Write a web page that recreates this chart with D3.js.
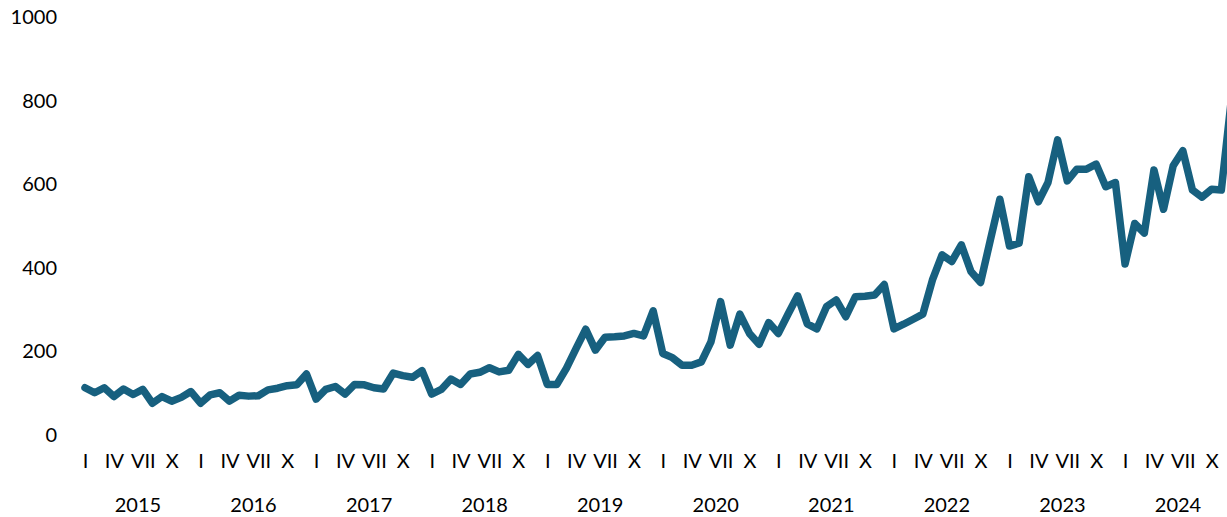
<!DOCTYPE html>
<html>
<head>
<meta charset="utf-8">
<script src="https://cdn.jsdelivr.net/npm/d3@7"></script>
<style>
	body { margin: 0; background: #fff; }
	svg { display: block; }
	.tick text { font-family: Lato, "Open Sans", sans-serif; font-size: 20px; fill: #000; }
	.yearLabel { font-family: Lato, "Open Sans", sans-serif; font-size: 20px; fill: #000; }
</style>
</head>
<body>
<div id="chart"></div>
<script>
//years shown under the month labels
const years = [2015, 2016, 2017, 2018, 2019, 2020, 2021, 2022, 2023, 2024];

//month labels, only every third month gets one
const monthLabels = ["I", "", "", "IV", "", "", "VII", "", "", "X", "", ""];

//y axis ticks
const yTicks = [0, 200, 400, 600, 800, 1000];

//monthly values, one row per year
const values2015 = [113, 101, 113, 92, 110, 97, 109, 76, 92, 81, 90, 104];
const values2016 = [76, 96, 101, 81, 95, 93, 94, 108, 112, 118, 120, 146];
const values2017 = [86, 109, 116, 98, 121, 120, 113, 110, 148, 142, 138, 154];
const values2018 = [98, 109, 134, 121, 146, 150, 161, 151, 155, 193, 169, 190];
const values2019 = [121, 121, 160, 207, 253, 203, 234, 235, 237, 243, 237, 297];
const values2020 = [195, 185, 167, 167, 175, 223, 319, 215, 289, 243, 217, 269];
const values2021 = [243, 289, 333, 266, 254, 307, 323, 283, 331, 332, 335, 360];
const values2022 = [254, 265, 277, 289, 371, 431, 415, 455, 391, 365, 465, 564];
const values2023 = [452, 459, 618, 558, 604, 706, 608, 636, 636, 648, 594, 604];
const values2024 = [409, 506, 483, 634, 540, 644, 680, 586, 569, 588, 586, 795];

const series = [].concat(values2015, values2016, values2017, values2018, values2019,
	values2020, values2021, values2022, values2023, values2024);

const width = 1227,
	height = 517,
	lineColor = "#17607f";

const svg = d3.select("#chart")
	.append("svg")
	.attr("width", width)
	.attr("height", height);

//one step per month, last month runs a little past the right edge
const x = d3.scaleLinear()
	.domain([0, series.length - 1])
	.range([85, 85 + 9.63 * (series.length - 1)]);

const y = d3.scaleLinear()
	.domain([0, 1000])
	.range([435, 17]);

drawYAxis();
drawMonthAxis();
drawYearLabels();
drawLine();

//value labels on the left, no axis line and no ticks
function drawYAxis(){
	const axis = svg.append("g")
		.attr("transform", "translate(60,0)")
		.call(d3.axisLeft(y).tickValues(yTicks).tickSize(0).tickPadding(3).tickFormat(d3.format("d")));
	axis.select(".domain").remove();
}

//roman month numbers under the plot
function drawMonthAxis(){
	const idx = d3.range(series.length).filter(i => monthLabels[i % 12] !== "");
	const axis = svg.append("g")
		.attr("transform", "translate(0,454)")
		.call(d3.axisBottom(x).tickValues(idx).tickSize(0).tickPadding(0)
			.tickFormat(i => monthLabels[i % 12]));
	axis.select(".domain").remove();
}

//year centered under its twelve months
function drawYearLabels(){
	svg.append("g")
		.selectAll("text")
		.data(years)
		.enter()
		.append("text")
		.attr("class", "yearLabel")
		.attr("text-anchor", "middle")
		.attr("x", (d, i) => x(i * 12 + 5.5))
		.attr("y", 512)
		.text(d => d);
}

function drawLine(){
	const line = d3.line()
		.x((d, i) => x(i))
		.y(d => y(d));

	svg.append("path")
		.datum(series)
		.attr("fill", "none")
		.attr("stroke", lineColor)
		.attr("stroke-width", 7.5)
		.attr("stroke-linejoin", "round")
		.attr("stroke-linecap", "round")
		.attr("d", line);
}
</script>
</body>
</html>
